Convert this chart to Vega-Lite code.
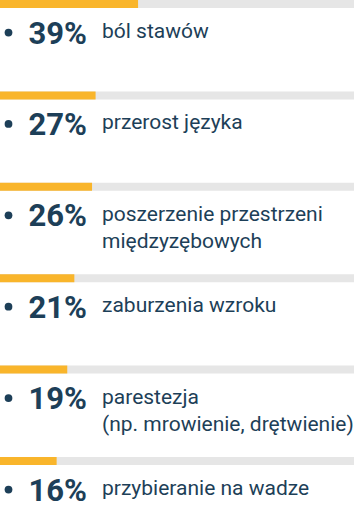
{
  "$schema": "https://vega.github.io/schema/vega-lite/v6.json",
  "width": 354,
  "height": 510,
  "autosize": {"type": "none"},
  "padding": 0,
  "background": "white",
  "config": {"view": {"stroke": null}},
  "data": {
    "values": [
      {"row": 0, "value": 39, "pct": "39%", "label": "ból stawów"},
      {"row": 1, "value": 27, "pct": "27%", "label": "przerost języka"},
      {"row": 2, "value": 26, "pct": "26%", "label": "poszerzenie przestrzeni\nmiędzyzębowych"},
      {"row": 3, "value": 21, "pct": "21%", "label": "zaburzenia wzroku"},
      {"row": 4, "value": 19, "pct": "19%", "label": "parestezja\n(np. mrowienie, drętwienie)"},
      {"row": 5, "value": 16, "pct": "16%", "label": "przybieranie na wadze"}
    ]
  },
  "layer": [
    {
      "mark": {"type": "rule", "strokeWidth": 8, "color": "#e6e6e6", "strokeCap": "butt"},
      "encoding": {
        "y": {"field": "row", "type": "quantitative", "axis": null, "scale": {"domain": [-0.0438, 5.536], "reverse": true, "nice": false, "zero": false}},
        "x": {"value": 0},
        "x2": {"value": "width"}
      }
    },
    {
      "mark": {"type": "rule", "strokeWidth": 8, "color": "#f9b52b", "strokeCap": "butt"},
      "encoding": {
        "y": {"field": "row", "type": "quantitative"},
        "x": {"field": "value", "type": "quantitative", "axis": null, "scale": {"domain": [0, 100], "nice": false}},
        "x2": {"value": 0}
      }
    },
    {
      "mark": {"type": "circle", "size": 60, "opacity": 1, "color": "#1d3f58", "xOffset": 8.5, "yOffset": 28.5},
      "encoding": {
        "y": {"field": "row", "type": "quantitative"},
        "x": {"value": 0}
      }
    },
    {
      "mark": {"type": "text", "align": "left", "baseline": "alphabetic", "dx": 28.5, "dy": 39.5, "font": "Roboto", "fontWeight": "bold", "fontSize": 31, "color": "#1d3f58"},
      "encoding": {
        "y": {"field": "row", "type": "quantitative"},
        "x": {"value": 0},
        "text": {"field": "pct"}
      }
    },
    {
      "mark": {"type": "text", "align": "left", "baseline": "alphabetic", "dx": 102, "dy": 34, "font": "Roboto", "fontSize": 21, "lineHeight": 27.5, "lineBreak": "\n", "color": "#1d3f58"},
      "encoding": {
        "y": {"field": "row", "type": "quantitative"},
        "x": {"value": 0},
        "text": {"field": "label"}
      }
    }
  ]
}
